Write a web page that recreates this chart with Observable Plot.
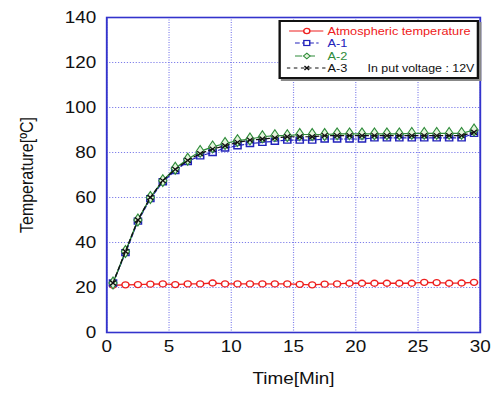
<!DOCTYPE html>
<html><head><meta charset="utf-8">
<script src="https://cdn.jsdelivr.net/npm/d3@7"></script>
<script src="https://cdn.jsdelivr.net/npm/@observablehq/plot@0.6"></script>
<style>
body{margin:0;background:#fff;font-family:"Liberation Sans",Arial,sans-serif;overflow:hidden;}
#wrap{position:relative;width:422px;height:395px;transform:scaleX(1.18);transform-origin:0 0;}
#legend{position:absolute;left:235.5px;top:20px;width:166px;height:55px;border:2px solid #111;background:#fff;box-shadow:2px 2px 0 #888;font-size:10.8px;}
#legend .row{position:absolute;left:5px;height:12px;display:flex;align-items:center;}
#legend svg{margin-right:2px;}
</style></head><body>
<div id="wrap"></div>
<script>
const time = [0.5,1.5,2.5,3.5,4.5,5.5,6.5,7.5,8.5,9.5,10.5,11.5,12.5,13.5,14.5,15.5,16.5,17.5,18.5,19.5,20.5,21.5,22.5,23.5,24.5,25.5,26.5,27.5,28.5,29.5];
const atmospheric = [21.0,21.2,21.3,21.5,21.6,21.3,21.6,21.6,22.0,21.6,21.6,21.6,21.6,21.6,21.6,21.4,21.2,21.5,21.6,21.9,21.9,21.9,21.9,21.9,21.9,22.3,22.2,21.9,22.0,22.3];
const a1 = [22,35.5,49.5,59.5,67,72,76,78.5,80,82,83,84,84.5,85,85.5,85.5,85.5,86,86,86,86,86.5,86.5,86.5,86.5,86.5,86.5,86.5,86.5,88.5];
const a2 = [22,36,50,60,67.5,73,77,80.5,82.5,84,85.3,86,87,87.5,87.5,88,88,88,88.3,88.3,88.3,88.3,88.3,88.3,88.5,88.5,88.5,88.5,88.5,90];
const a3 = [22,36,50,60,67.5,72.5,76.5,79.5,81.5,83,84.5,85.5,86,86.5,87,87,87,87.5,87.5,87.5,87.5,87.5,87.5,87.5,87.5,87.5,87.5,87.5,87.5,89];
const xTicks = [0,5,10,15,20,25,30];
const yTicks = [0,20,40,60,80,100,120,140];
const seriesNames = ["Atmospheric temperature","A-1","A-2","A-3"];

const mk = (vals) => time.map((t,i)=>({t, v: vals[i]}));
const dRed = mk(atmospheric), d1 = mk(a1), d2 = mk(a2), d3 = mk(a3);
const RED="#ee2020", BLUE="#2222bb", GREEN="#2e8b3a", BLACK="#111";
const gridC = "#7070e8";

const chart = Plot.plot({
  width: 422, height: 395,
  marginLeft: 90, marginRight: 15.5, marginTop: 17, marginBottom: 63,
  style: {fontFamily: '"Liberation Sans", Arial, sans-serif', fontSize: "16px", color: "#111", background: "#fff"},
  x: {domain: [0,30], ticks: xTicks, label: null},
  y: {domain: [0,140], ticks: yTicks, label: null},
  marks: [
    Plot.gridX(xTicks, {stroke: gridC, strokeOpacity: 0.9, strokeDasharray: "1,1.5", strokeWidth: 1}),
    Plot.gridY(yTicks, {stroke: gridC, strokeOpacity: 0.9, strokeDasharray: "1,1.5", strokeWidth: 1}),
    Plot.axisX(xTicks, {tickSize: 0, tickPadding: 8, fontSize: 16, label: "Time[Min]", labelAnchor: "center", labelArrow: "none", labelOffset: 51}),
    Plot.axisY(yTicks, {tickSize: 0, tickPadding: 9, fontSize: 16, label: "Temperature[\u00BAC]", labelAnchor: "center", labelArrow: "none", labelOffset: 74}),
    Plot.line(dRed, {x: "t", y: "v", stroke: RED, strokeWidth: 1.3}),
    Plot.dot(dRed, {x: "t", y: "v", stroke: RED, fill: "#fff", r: 3, strokeWidth: 1.3}),
    Plot.line(d1, {x: "t", y: "v", stroke: BLUE, strokeWidth: 1.2, strokeDasharray: "4,2"}),
    Plot.dot(d1, {x: "t", y: "v", symbol: "square", stroke: BLUE, fill: "none", r: 3.4, strokeWidth: 1.3}),
    Plot.line(d2, {x: "t", y: "v", stroke: GREEN, strokeWidth: 1.2}),
    Plot.dot(d2, {x: "t", y: "v", symbol: "diamond", stroke: GREEN, fill: "#e4f5dc", r: 3.6, strokeWidth: 1}),
    Plot.line(d3, {x: "t", y: "v", stroke: BLACK, strokeWidth: 1.2, strokeDasharray: "4,3"}),
    Plot.dot(d3, {x: "t", y: "v", symbol: "times", stroke: BLACK, r: 2.4, strokeWidth: 1.2}),
    Plot.frame({stroke: "#3333cc", strokeWidth: 1.6})
  ]
});
document.getElementById("wrap").appendChild(chart);

// legend overlay
const legend = document.createElement("div");
legend.id = "legend";
const sw = [
  {c: RED, dash: null, sym: "circle"},
  {c: BLUE, dash: "4,2", sym: "square"},
  {c: GREEN, dash: "6,5", sym: "diamond"},
  {c: BLACK, dash: "3,3", sym: "times"}
];
seriesNames.forEach((name, i) => {
  const row = document.createElement("div");
  row.className = "row";
  row.style.top = (3 + i * 12.3) + "px";
  const s = sw[i];
  let symSvg = "";
  if (s.sym === "circle") symSvg = `<circle cx="17" cy="6" r="2.6" fill="#fff" stroke="${s.c}" stroke-width="1.2"/>`;
  if (s.sym === "square") symSvg = `<rect x="14.5" y="3.5" width="5" height="5" fill="#fff" stroke="${s.c}" stroke-width="1.2"/>`;
  if (s.sym === "diamond") symSvg = `<path d="M17,3.2L19.8,6L17,8.8L14.2,6Z" fill="#e4f5dc" stroke="${s.c}" stroke-width="1"/>`;
  if (s.sym === "times") symSvg = `<path d="M15,4L19,8M19,4L15,8" stroke="${s.c}" stroke-width="1.2"/>`;
  const x1 = i === 0 ? 2 : (i === 3 ? 0 : 7);
  const x2 = i === 0 ? 31 : (i === 3 ? 33 : 27);
  row.innerHTML = `<svg width="33" height="12"><line x1="${x1}" y1="6" x2="${x2}" y2="6" stroke="${s.c}" stroke-width="1.2" ${s.dash ? `stroke-dasharray="${s.dash}"` : ""}/>${symSvg}</svg><span style="color:${s.c}">${name}</span>`;
  legend.appendChild(row);
});
const note = document.createElement("div");
note.textContent = "In put voltage : 12V";
note.style.cssText = "position:absolute;left:74px;top:40px;font-size:10.5px;color:#111;";
legend.appendChild(note);
document.getElementById("wrap").appendChild(legend);
</script>
</body></html>
